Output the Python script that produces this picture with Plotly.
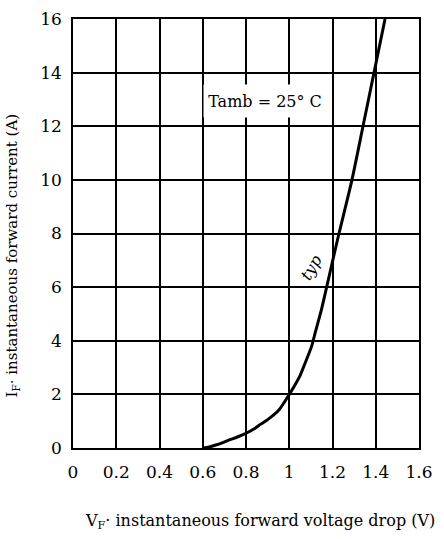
import plotly.graph_objects as go

vf = [0.6, 0.63, 0.66, 0.69, 0.72, 0.76, 0.8, 0.84, 0.87, 0.9, 0.95, 0.975, 1.0, 1.025, 1.05, 1.075, 1.104, 1.12, 1.15, 1.173, 1.204, 1.23, 1.29, 1.341, 1.392, 1.443]
i_f = [0.0, 0.04, 0.11, 0.19, 0.29, 0.41, 0.55, 0.73, 0.9, 1.06, 1.4, 1.68, 2.0, 2.33, 2.7, 3.2, 3.81, 4.3, 5.2, 6.0, 7.1, 8.0, 10.0, 12.0, 14.0, 16.0]

x_ticks = [0, 0.2, 0.4, 0.6, 0.8, 1.0, 1.2, 1.4, 1.6]
x_labels = ["0", "0.2", "0.4", "0.6", "0.8", "1", "1.2", "1.4", "1.6"]
y_ticks = [0, 2, 4, 6, 8, 10, 12, 14, 16]

FONT = "DejaVu Serif"

fig = go.Figure()
fig.add_trace(go.Scatter(x=vf, y=i_f, mode="lines",
                         line=dict(color="black", width=3, shape="spline", smoothing=0.7),
                         hoverinfo="skip", showlegend=False))

fig.update_layout(
    width=444, height=539,
    margin=dict(l=73, r=25, t=9, b=91),
    paper_bgcolor="white", plot_bgcolor="white",
    font=dict(family=FONT, color="black"),
    xaxis=dict(range=[0, 1.6], tickvals=x_ticks, ticktext=x_labels,
               showgrid=True, gridcolor="black", gridwidth=1.5,
               showline=True, linecolor="black", linewidth=1.5, mirror=True,
               zeroline=False, ticks="", tickfont=dict(size=17, family=FONT),
               ticklabelstandoff=8, fixedrange=True),
    yaxis=dict(range=[0, 16], tickvals=y_ticks,
               showgrid=True, gridcolor="black", gridwidth=1.5,
               showline=True, linecolor="black", linewidth=1.5, mirror=True,
               zeroline=False, ticks="", tickfont=dict(size=17, family=FONT),
               ticklabelstandoff=6, fixedrange=True),
    annotations=[
        dict(text="V<sub>F</sub>· instantaneous forward voltage drop (V)",
             xref="paper", yref="paper", x=0.540, y=-0.171, showarrow=False,
             font=dict(size=16, family=FONT), xanchor="center", yanchor="middle"),
        dict(text="I<sub>F</sub>· instantaneous forward current (A)",
             xref="paper", yref="paper", x=-0.176, y=0.449, showarrow=False,
             textangle=-90, font=dict(size=15, family=FONT),
             xanchor="center", yanchor="middle"),
        dict(text="Tamb = 25° C", x=0.888, y=12.95, xref="x", yref="y",
             showarrow=False, font=dict(size=16, family=FONT),
             bgcolor="white", width=120, height=30, borderpad=1),
        dict(text="<i>typ</i>", x=1.101, y=6.74, xref="x", yref="y",
             showarrow=False, font=dict(size=16, family=FONT), textangle=-60),
    ],
)

fig.write_html("out.html")
